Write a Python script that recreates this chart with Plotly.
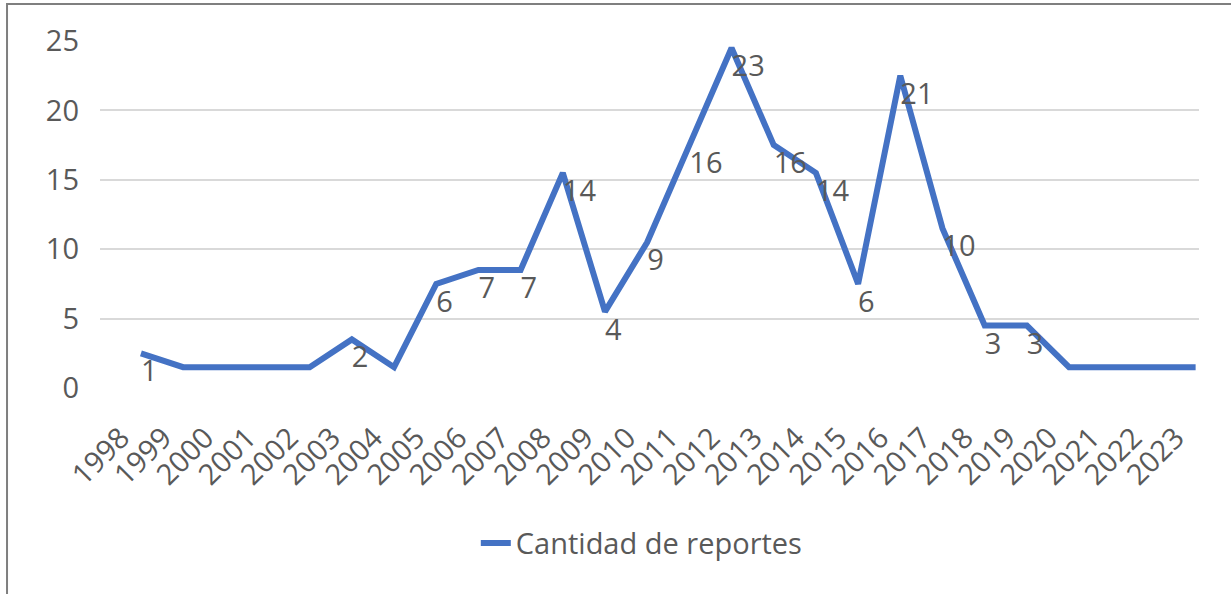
import plotly.graph_objects as go

# ---------------------------------------------------------------------------
# データ
# ---------------------------------------------------------------------------
years = [str(y) for y in range(1998, 2024)]
# 線の高さ
line_values = [2.5, 1.5, 1.5, 1.5, 1.5, 3.5, 1.5, 7.5, 8.5, 8.5, 15.5, 5.5, 10.5,
               17.5, 24.5, 17.5, 15.5, 7.5, 22.5, 11.5, 4.5, 4.5, 1.5, 1.5, 1.5, 1.5]
# データラベル（報告件数）
report_counts = [1, 0, 0, 0, 0, 2, 0, 6, 7, 7, 14, 4, 9,
                 16, 23, 16, 14, 6, 21, 10, 3, 3, 0, 0, 0, 0]
series_name = "Cantidad de reportes"
y_ticks = [0, 5, 10, 15, 20, 25]

LINE_COLOR = "#4472C4"
TEXT_COLOR = "#595959"
GRID_COLOR = "#D9D9D9"
FONT = "Open Sans"
FS = 29

fig = go.Figure()

fig.add_trace(go.Scatter(
    x=list(range(len(years))), y=line_values, name=series_name,
    mode="lines", line=dict(color=LINE_COLOR, width=6),
))

# ラベル（0 は非表示）
lbl_x = [i for i, c in enumerate(report_counts) if c > 0]
lbl_y = [c for c in report_counts if c > 0]
fig.add_trace(go.Scatter(
    x=lbl_x, y=lbl_y, text=[str(c) for c in lbl_y],
    mode="text", textposition="middle right",
    textfont=dict(family=FONT, size=FS, color=TEXT_COLOR),
    showlegend=False, hoverinfo="skip",
))

fig.update_layout(
    width=1231, height=594,
    margin=dict(l=100, r=32, t=41, b=206),
    paper_bgcolor="white", plot_bgcolor="white",
    font=dict(family=FONT, size=FS, color=TEXT_COLOR),
    showlegend=True,
    legend=dict(orientation="h", x=0.493, xanchor="center", y=-0.447, yanchor="middle",
                font=dict(size=FS, color=TEXT_COLOR)),
    shapes=[dict(type="rect", xref="paper", yref="paper",
                 x0=-0.0846, x1=1.2, y0=-1.0, y1=1.1066,
                 line=dict(color="#7F7F7F", width=2), layer="below")],
)
fig.update_xaxes(
    range=[-0.97, 25.08], tickmode="array",
    tickvals=list(range(len(years))), ticktext=years,
    tickangle=-45, showgrid=False, zeroline=False,
    showline=False, ticks="", ticklabelstandoff=26, ticklabelshift=-20,
    automargin=False,
)
fig.update_yaxes(
    range=[0, 25], tickvals=y_ticks, showgrid=True, gridcolor=GRID_COLOR,
    gridwidth=2, zeroline=False, showline=False, ticks="",
    ticklabelstandoff=20, automargin=False,
)

# ページ余白をなくす
fig.write_html("out.html", config={"displayModeBar": False},
               post_script="document.body.style.margin='0';")
